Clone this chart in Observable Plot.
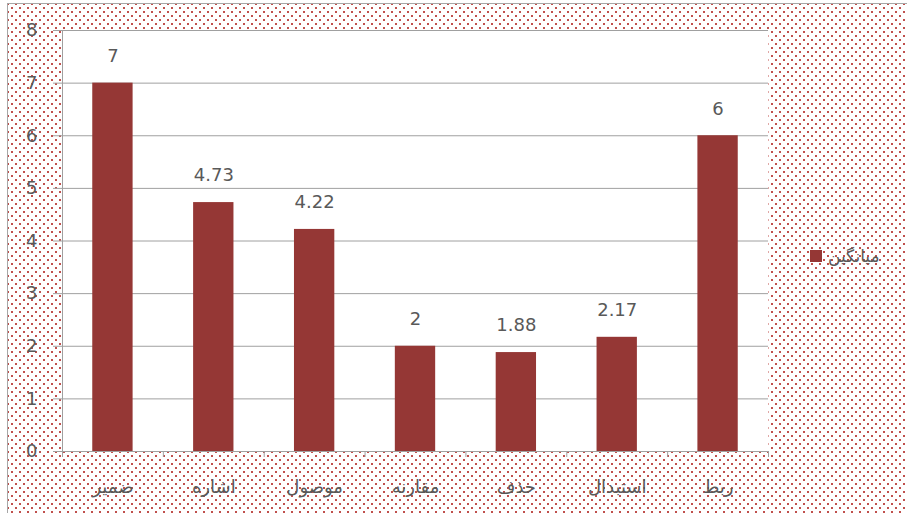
<!DOCTYPE html>
<html>
<head>
<meta charset="utf-8">
<script src="https://cdn.jsdelivr.net/npm/d3@7"></script>
<script src="https://cdn.jsdelivr.net/npm/@observablehq/plot@0.6"></script>
<style>
  html, body { margin: 0; padding: 0; background: white; overflow: hidden; }
  #wrap { position: relative; width: 907px; height: 513px; overflow: hidden; }
  #bg {
    position: absolute; left: 7px; top: 3px; width: 920px; height: 530px;
    border-left: 1px solid #a6a6a6; border-top: 1px solid #a6a6a6;
    background-color: white;
    background-image: radial-gradient(circle, #c0504d 0.9px, transparent 1.4px),
                      radial-gradient(circle, #c0504d 0.9px, transparent 1.4px);
    background-size: 8px 8px;
    background-position: 0 0, 4px 4px;
  }
  #chart { position: absolute; left: 0; top: 0; }
  #legend {
    position: absolute; left: 810px; top: 246px;
    display: flex; align-items: center; gap: 6px;
    font-family: "DejaVu Sans", sans-serif; font-size: 17px; color: #595959;
  }
  #legend .sw { width: 12px; height: 12px; background: #953735; }
</style>
</head>
<body>
<div id="wrap">
  <div id="bg"></div>
  <div id="chart"></div>
  <div id="legend"><span class="sw"></span><span id="legendText"></span></div>
</div>
<script>
const categories = ["ضمیر", "اشاره", "موصول", "مقارنه", "حذف", "استبدال", "ربط"];
const values = [7, 4.73, 4.22, 2, 1.88, 2.17, 6];
const valueLabels = ["7", "4.73", "4.22", "2", "1.88", "2.17", "6"];
const yTicks = [0, 1, 2, 3, 4, 5, 6, 7, 8];
const seriesName = "میانگین";

const data = categories.map((c, i) => ({cat: c, value: values[i], label: valueLabels[i]}));

const W = 907, H = 513, ML = 62, MR = 139, MT = 30, MB = 62;
const step = (W - ML - MR) / categories.length;
const gray = "#a0a0a0";
const textGray = "#595959";

const chart = Plot.plot({
  width: W, height: H,
  marginLeft: ML, marginRight: MR, marginTop: MT, marginBottom: MB,
  style: {background: "transparent", fontFamily: "DejaVu Sans, sans-serif"},
  x: {domain: categories, paddingInner: 0.6, paddingOuter: 0.3, round: false, label: null},
  y: {domain: [0, 8], label: null},
  marks: [
    Plot.frame({fill: "white", stroke: null}),
    Plot.gridY(yTicks, {stroke: gray, strokeOpacity: 1, strokeWidth: 1}),
    Plot.axisY(yTicks, {tickSize: 9, tickPadding: 16, stroke: gray, fontSize: 18, fill: textGray, label: null, tickFormat: d => String(d)}),
    Plot.barY(data, {x: "cat", y: "value", fill: "#953735"}),
    Plot.ruleY([0], {stroke: gray}),
    Plot.ruleX(categories.slice(0, 1), {x: d => d, dx: -step / 2, stroke: gray}),
    Plot.ruleX(categories, {x: d => d, y1: 0, y2: 0, insetBottom: -6, dx: -step / 2, stroke: gray}),
    Plot.ruleX(categories.slice(-1), {x: d => d, y1: 0, y2: 0, insetBottom: -6, dx: step / 2, stroke: gray}),
    Plot.axisX({tickSize: 0, tickPadding: 29, fontSize: 18, fill: textGray, label: null}),
    Plot.text(data, {x: "cat", y: "value", text: "label", dy: -27, fontSize: 18, fill: textGray, lineAnchor: "middle"})
  ]
});
document.getElementById("chart").appendChild(chart);
document.getElementById("legendText").textContent = seriesName;
</script>
</body>
</html>
